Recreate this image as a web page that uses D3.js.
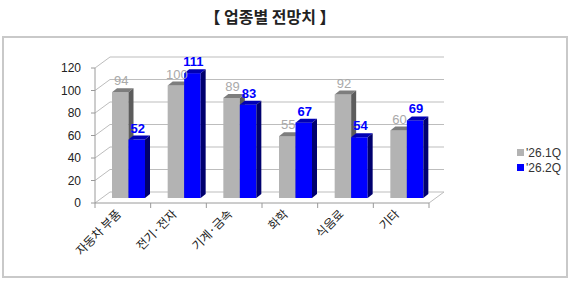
<!DOCTYPE html>
<meta charset="utf-8">
<style>
  body { margin: 0; background: #fff; }
  text { font-family: "Noto Sans CJK KR", "Liberation Sans", sans-serif; }
  .num { font-family: "Liberation Sans", "DejaVu Sans", sans-serif; }
</style>
<body></body>
<script src="https://d3js.org/d3.v7.min.js"></script>
<script>
// data
var categories = ["자동차 부품", "전기·전자", "기계·금속", "화학", "식음료", "기타"];
var seriesNames = ["'26.1Q", "'26.2Q"];
var q1Values = [94, 100, 89, 55, 92, 60];
var q2Values = [52, 111, 83, 67, 54, 69];
var yTicks = [0, 20, 40, 60, 80, 100, 120];

var width = 580, height = 284;
var depth = {dx: 15, dy: -11};   // floor depth of the 3d box
var barDepth = {dx: 5, dy: -4};  // depth of each bar

var svg = d3.select("body").append("svg")
    .attr("width", width)
    .attr("height", height);

// outer frame
svg.append("rect")
  .attr("x", 3).attr("y", 37)
  .attr("width", 564).attr("height", 240)
  .attr("fill", "none")
  .attr("stroke", "#c9c9c9")
  .attr("stroke-width", 2);

svg.append("text")
  .attr("x", 270).attr("y", 23)
  .attr("text-anchor", "middle")
  .attr("font-size", 16)
  .attr("font-weight", 700)
  .attr("fill", "#222")
  .text("【 업종별 전망치 】");

// scales (front plane of the box)
var x = d3.scaleBand().domain(categories).range([95, 429]);
var xs = d3.scaleBand().domain(seriesNames).range([10, 43]);
var y = d3.scaleLinear().domain([0, 120]).range([203, 68]);

var grid = svg.append("g");

// back wall gridlines
grid.selectAll(".back").data(yTicks).join("line")
  .attr("x1", 95 + depth.dx).attr("x2", 429 + depth.dx)
  .attr("y1", function(d) { return y(d) + depth.dy; })
  .attr("y2", function(d) { return y(d) + depth.dy; })
  .attr("stroke", "#bdbdbd");

// left wall slants
grid.selectAll(".side").data(yTicks).join("line")
  .attr("x1", 95).attr("x2", 95 + depth.dx)
  .attr("y1", function(d) { return y(d); })
  .attr("y2", function(d) { return y(d) + depth.dy; })
  .attr("stroke", "#bdbdbd");

// floor right edge
grid.append("line")
  .attr("x1", 429).attr("x2", 429 + depth.dx)
  .attr("y1", y(0)).attr("y2", y(0) + depth.dy)
  .attr("stroke", "#bdbdbd");

// front axis lines
grid.append("line")
  .attr("x1", 95).attr("x2", 95)
  .attr("y1", y(0)).attr("y2", y(120))
  .attr("stroke", "#9a9a9a");
grid.append("line")
  .attr("x1", 95).attr("x2", 429)
  .attr("y1", y(0)).attr("y2", y(0))
  .attr("stroke", "#9a9a9a");

// y ticks + labels
grid.selectAll(".ytick").data(yTicks).join("line")
  .attr("x1", 91).attr("x2", 95)
  .attr("y1", function(d) { return y(d); })
  .attr("y2", function(d) { return y(d); })
  .attr("stroke", "#9a9a9a");
svg.selectAll(".ylab").data(yTicks).join("text")
  .attr("class", "num")
  .attr("x", 81)
  .attr("y", function(d) { return y(d); })
  .attr("dy", "0.35em")
  .attr("text-anchor", "end")
  .attr("font-size", 12)
  .attr("fill", "#222")
  .text(function(d) { return d; });

// x ticks between categories
var bounds = categories.map(function(c) { return x(c); }).concat([429]);
grid.selectAll(".xtick").data(bounds).join("line")
  .attr("x1", function(d) { return d; }).attr("x2", function(d) { return d; })
  .attr("y1", y(0)).attr("y2", y(0) + 5)
  .attr("stroke", "#9a9a9a");

// x labels, rotated
svg.selectAll(".xlab").data(categories).join("text")
  .attr("transform", function(c) {
    return "translate(" + (x(c) + x.bandwidth() / 2 - 1) + "," + 215 + ") rotate(-45)";
  })
  .attr("text-anchor", "end")
  .attr("font-size", 12)
  .attr("fill", "#222")
  .text(function(c) { return c; });

// bars
var colors = {
  "'26.1Q": {front: "#b3b3b3", top: "#7d7d7d", side: "#5c5c5c", label: "#a9a9a9", weight: 400},
  "'26.2Q": {front: "#0000ff", top: "#0000b4", side: "#00006e", label: "#0000ff", weight: 700}
};

var bars = [];
categories.forEach(function(c, i) {
  bars.push({cat: c, s: seriesNames[0], v: q1Values[i]});
  bars.push({cat: c, s: seriesNames[1], v: q2Values[i]});
});

var half = {dx: 7, dy: -5};
var bw = xs.bandwidth();

var g = svg.append("g");
bars.forEach(function(b) {
  var x0 = x(b.cat) + xs(b.s) + half.dx;
  var x1 = x0 + bw;
  var yb = y(0) + half.dy;
  var yt = y(b.v) + half.dy;
  var col = colors[b.s];
  g.append("rect")
    .attr("x", x0).attr("y", yt)
    .attr("width", bw).attr("height", yb - yt)
    .attr("fill", col.front);
  g.append("path")
    .attr("d", "M" + x0 + "," + yt + "L" + (x0 + barDepth.dx) + "," + (yt + barDepth.dy) +
      "L" + (x1 + barDepth.dx) + "," + (yt + barDepth.dy) + "L" + x1 + "," + yt + "Z")
    .attr("fill", col.top);
  g.append("path")
    .attr("d", "M" + x1 + "," + yt + "L" + (x1 + barDepth.dx) + "," + (yt + barDepth.dy) +
      "L" + (x1 + barDepth.dx) + "," + (yb + barDepth.dy) + "L" + x1 + "," + yb + "Z")
    .attr("fill", col.side);
});

// value labels
svg.selectAll(".vlab").data(bars).join("text")
  .attr("class", "num")
  .attr("x", function(b) { return x(b.cat) + xs(b.s) + half.dx + bw / 2 + 1; })
  .attr("y", function(b) { return y(b.v) + half.dy - 7; })
  .attr("text-anchor", "middle")
  .attr("font-size", 13)
  .attr("font-weight", function(b) { return colors[b.s].weight; })
  .attr("fill", function(b) { return colors[b.s].label; })
  .text(function(b) { return b.v; });

// legend
var leg = svg.selectAll(".leg").data(seriesNames).join("g")
  .attr("transform", function(d, i) { return "translate(517," + (149 + i * 15) + ")"; });
leg.append("rect")
  .attr("width", 7).attr("height", 7)
  .attr("fill", function(d) { return colors[d].front; });
leg.append("text")
  .attr("class", "num")
  .attr("x", 9).attr("y", 4)
  .attr("dy", "0.35em")
  .attr("font-size", 12)
  .attr("fill", "#333")
  .text(function(d) { return d; });
</script>
